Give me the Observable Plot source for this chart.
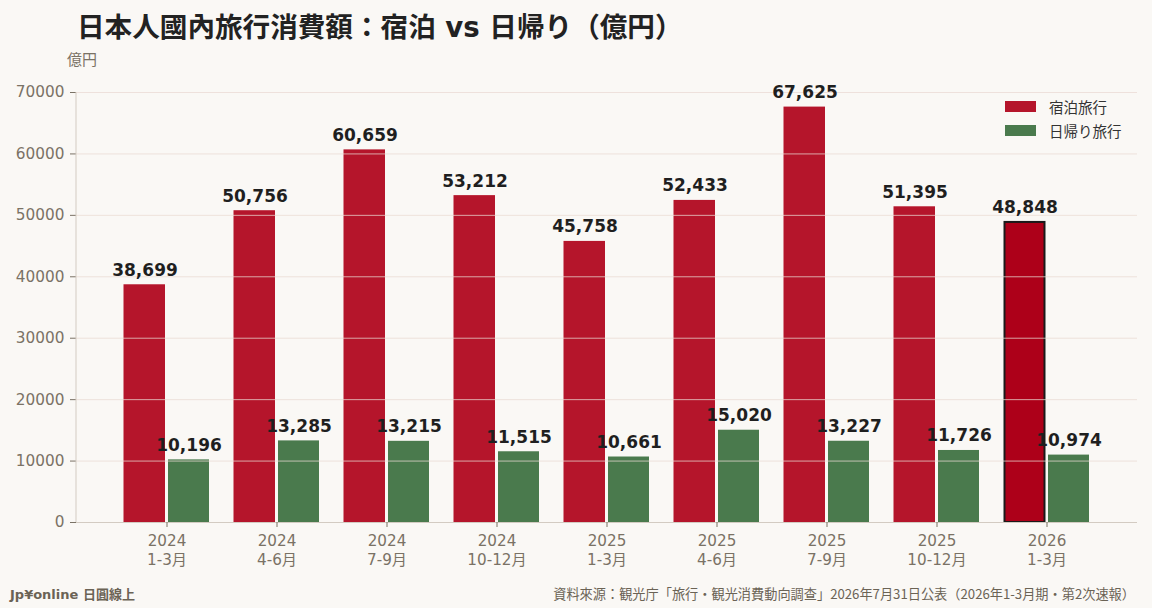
<!DOCTYPE html>
<html>
<head>
<meta charset="utf-8">
<script src="https://cdn.jsdelivr.net/npm/d3@7"></script>
<script src="https://cdn.jsdelivr.net/npm/@observablehq/plot@0.6"></script>
<style>
  html, body { margin: 0; padding: 0; background: #faf8f5; }
  #wrap { position: relative; width: 1152px; height: 608px; background: #faf8f5; overflow: hidden;
    font-family: "DejaVu Sans", "Noto Sans CJK JP", sans-serif; }
  #chart { position: absolute; left: 0; top: 0; }
  .title { position: absolute; left: 77px; top: 5px; font-size: 27.6px; font-weight: bold; color: #222;
    font-family: "DejaVu Sans", "Noto Sans CJK JP", sans-serif; white-space: nowrap; }
  .ylab { position: absolute; left: 67px; top: 48px; font-size: 15px; color: #7a7265;
    font-family: "Noto Sans CJK JP", sans-serif; }
  .legend { position: absolute; left: 1005px; top: 94px; font-size: 14.5px; color: #333;
    font-family: "Noto Sans CJK JP", sans-serif; }
  .legend .row { display: flex; align-items: center; height: 24px; }
  .legend .sw { width: 31px; height: 11px; margin-right: 13px; }
  .foot-l { position: absolute; left: 10px; top: 584px; font-size: 13px; font-weight: bold; color: #6b6355;
    font-family: "DejaVu Sans", "Noto Sans CJK JP", sans-serif; }
  .foot-r { position: absolute; right: 17px; top: 584px; font-size: 13.2px; color: #6b6355;
    font-family: "Noto Sans CJK JP", sans-serif; white-space: nowrap; }
</style>
</head>
<body>
<div id="wrap">
  <div id="chart"></div>
  <div class="title">日本人國內旅行消費額：宿泊 vs 日帰り（億円）</div>
  <div class="ylab">億円</div>
  <div class="legend" id="legend"></div>
  <div class="foot-l">Jp¥online 日圓線上</div>
  <div class="foot-r">資料來源：観光庁「旅行・観光消費動向調查」2026年7月31日公表（2026年1-3月期・第2次速報）</div>
</div>
<script>
// ---- data ----
const years = ["2024", "2024", "2024", "2024", "2025", "2025", "2025", "2025", "2026"];
const quarters = ["1-3月", "4-6月", "7-9月", "10-12月", "1-3月", "4-6月", "7-9月", "10-12月", "1-3月"];
const stay = [38699, 50756, 60659, 53212, 45758, 52433, 67625, 51395, 48848];
const dayTrip = [10196, 13285, 13215, 11515, 10661, 15020, 13227, 11726, 10974];
const seriesNames = ["宿泊旅行", "日帰り旅行"];
const yTicks = [0, 10000, 20000, 30000, 40000, 50000, 60000, 70000];

// ---- styling ----
const RED = "#b5152b", RED_HI = "#ad0019", GREEN = "#4a7a4d";
const W = 1152, H = 608;
const mL = 76, mR = 15, mT = 92, mB = 86;
const pInner = 0.23, pOuter = 0.42;

const periods = years.map((y, i) => y + "\n" + quarters[i]);
const idx = d3.range(periods.length);
const last = idx.length - 1;
const step = (W - mL - mR) / (periods.length - pInner + 2 * pOuter);
const bw = step * (1 - pInner);
const half = bw / 2 + 1.5;   // inset to split band into two bars with a 3px gap
const off = bw / 4 + 0.75;   // center offset of each bar from band center

const font = "DejaVu Sans, Noto Sans CJK JP, sans-serif";

const plot = Plot.plot({
  width: W, height: H,
  marginLeft: mL, marginRight: mR, marginTop: mT, marginBottom: mB,
  style: { background: "transparent", fontFamily: font, overflow: "visible" },
  x: { type: "band", domain: periods, paddingInner: pInner, paddingOuter: pOuter, label: null },
  y: { domain: [0, 70000], label: null },
  marks: [
    Plot.barY(idx.filter(i => i !== last), { x: i => periods[i], y: i => stay[i], fill: RED, insetRight: half, insetLeft: -0.5 }),
    Plot.barY([last], { x: i => periods[i], y: i => stay[i], fill: RED_HI, stroke: "#1a1a1a", strokeWidth: 2, insetRight: half + 0.5, insetLeft: 0.5 }),
    Plot.barY(idx, { x: i => periods[i], y: i => dayTrip[i], fill: GREEN, insetLeft: half }),
    Plot.ruleY(yTicks.filter(d => d > 0), { stroke: "#ead9d3", strokeOpacity: 0.75 }),
    Plot.ruleY([0], { stroke: "#d3cbc2" }),
    Plot.axisY({ ticks: yTicks, tickFormat: d => String(d), tickSize: 6, tickPadding: 6, fontSize: 15.3, fill: "#7a7265", stroke: "#7a7265", label: null }),
    Plot.axisX({ tickSize: 5, tickPadding: 6, fontSize: 15.2, lineHeight: 1.2, fill: "#7a7265", stroke: "#7a7265", label: null }),
    Plot.text(idx, { x: i => periods[i], y: i => stay[i], text: i => d3.format(",")(stay[i]), dx: -off, dy: -9, lineAnchor: "bottom", fontSize: 17, fontWeight: "bold", fill: "#1f1f1f" }),
    Plot.text(idx, { x: i => periods[i], y: i => dayTrip[i], text: i => d3.format(",")(dayTrip[i]), dx: off, dy: -9, lineAnchor: "bottom", fontSize: 17, fontWeight: "bold", fill: "#1f1f1f" })
  ]
});
document.getElementById("chart").appendChild(plot);

// left axis line using the plot's own y scale
const ys = plot.scale("y");
d3.select(plot).append("line")
  .attr("x1", mL).attr("x2", mL)
  .attr("y1", ys.apply(70000)).attr("y2", ys.apply(0))
  .attr("stroke", "#d3cbc2");

// legend
const legend = d3.select("#legend");
[RED, GREEN].forEach((c, i) => {
  const row = legend.append("div").attr("class", "row");
  row.append("div").attr("class", "sw").style("background", c);
  row.append("span").text(seriesNames[i]);
});
</script>
</body>
</html>
